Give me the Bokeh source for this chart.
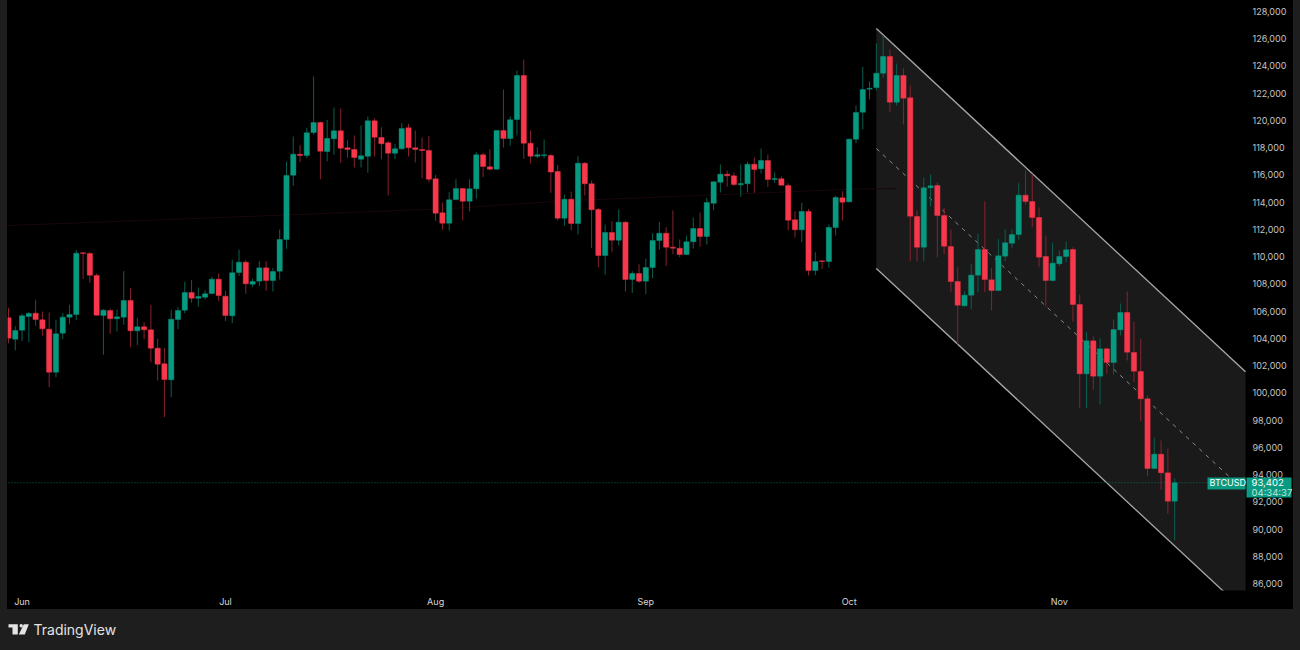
from bokeh.core.properties import value
from bokeh.embed import file_html
from bokeh.resources import INLINE
from bokeh.layouts import column, row
from bokeh.models import Range1d, LinearAxis, FixedTicker, NumeralTickFormatter, Label, ColumnDataSource, BoxAnnotation, Spacer
from bokeh.plotting import figure

opens = [105510,103944,104604,105608,105852,105363,104678,101521,104384,105559,
105755,110282,110233,108618,105681,106048,105436,105559,106782,104556,
104849,104629,103283,102133,100958,105388,106073,107370,106954,107027,
107296,108348,107100,105657,108838,109596,107981,108202,109180,108250,
108933,111261,115982,117523,117428,119117,119851,117722,118654,119241,
117993,117868,117156,117377,119976,118749,118360,117597,117920,119462,
117993,117868,117795,115717,113221,112457,114197,115005,114073,114983,
117479,116598,116422,119263,118676,120071,123301,118331,117377,117428,
117428,116253,112824,114219,112435,116863,115350,113463,110086,111775,
111209,112531,108324,108764,108199,109205,111187,111723,110695,110622,
110159,111092,112068,111481,113926,115468,116055,115937,115277,115350,
116789,116451,117061,115666,115717,115225,112707,111973,113316,108985,
109697,109645,112142,114322,114029,118625,120607,122296,122420,123470,
124696,121341,123301,121664,112949,110695,115056,115225,113023,110747,
108177,106393,107171,108640,110526,108302,107516,110035,110989,111628,
114513,114051,112876,110012,108250,109476,110012,110526,106488,101400,
103823,101224,103236,102230,104631,105901,102964,101569,99565,94447,
95497,94132,92046]

closes = [104017,104580,105657,105828,105388,104702,101521,104335,105559,105755,
110257,110240,108642,105706,106073,105436,105583,106782,104556,104849,
104629,103283,102109,100983,105412,106048,107370,106954,107076,107272,
108348,107149,105681,108813,109596,108006,108177,109180,108250,108911,
111261,115959,117523,117428,119095,119851,117744,118676,119241,117964,
117868,117281,117406,119976,118772,118287,117597,117920,119410,117993,
117868,117795,115688,113192,112457,114175,115005,114073,114983,117479,
116620,116422,119263,118676,120049,123301,118331,117377,117479,117479,
116216,112824,114219,112435,116863,115350,113441,110086,111775,111209,
112531,108324,108764,108199,109205,111187,111723,110695,110622,110159,
111092,112068,111481,113977,115497,116055,115937,115299,115372,116789,
116400,117061,115666,115739,115247,112678,111973,113316,108985,109645,
109645,112142,114344,113999,118625,120585,122274,122369,123470,124696,
121341,123301,121635,112971,110695,115056,115203,113023,110769,108177,
106437,107171,108640,110526,108324,107516,110064,111018,111628,114513,
114051,112876,109961,108250,109521,110012,110504,106488,101400,103823,
101224,103236,102230,104653,105901,102986,101591,99565,94447,95497,
94132,92046,93402]

highs = [106244,104898,105803,105926,106831,105975,105901,105363,105877,106464,
110502,110330,110355,108764,106146,106195,106122,108936,107712,105510,
105192,106464,103968,103308,106097,106293,108153,108299,107737,107516,
108520,108764,107492,109768,110526,109743,108373,109670,109670,109180,
111995,116987,118823,118184,119432,123228,119924,120049,120952,120879,
118551,118896,119630,120291,120166,119506,118507,118287,119799,119755,
119263,118749,118874,116011,113977,114733,115688,115027,115688,117670,
117626,117890,119263,122274,120291,123669,124476,119263,118037,118603,
117553,116730,114565,114785,117377,116936,115592,113588,112362,112604,
113463,112604,108933,109447,109844,111723,112560,112164,113390,111261,
111532,112876,113243,114322,115519,116767,116327,116180,116767,116965,
117281,117942,117501,116180,115886,115394,113316,113955,113515,110328,
109719,112362,114469,114807,118676,121099,123940,122861,125673,126238,
125210,124183,123815,122567,113390,115791,116033,115446,113610,111995,
109227,107443,109447,111679,114051,109153,111312,111995,111995,115394,
116327,116084,113610,111554,111018,110453,111114,110695,107223,104455,
104139,104014,103309,105387,106562,107443,105240,103970,99807,96701,
96503,95893,93713]

lows = [103650,103112,103797,103724,104923,104188,100420,101154,103944,105045,
105339,108373,108079,105681,102794,104335,104507,104996,103356,103503,
103944,102255,100909,98218,99686,104678,105852,106611,106317,106856,
107223,106733,105265,105118,108569,107272,107761,107835,107492,107443,
108324,110578,115203,116936,117230,118948,115688,117009,117479,116892,
117281,116547,116547,116158,117354,117156,114491,117156,117847,117354,
116914,115761,115468,112656,111973,111921,114124,112656,113338,114249,
115835,116349,116400,118015,118162,118896,117186,116841,117230,117230,
114689,112656,112288,111921,111628,114491,110622,109227,108691,110328,
110820,107443,107347,108082,107245,108397,110526,109300,110181,109961,
110130,110600,110725,110894,113412,114711,115130,115174,114396,114711,
114689,116106,115101,115424,115225,111943,111407,111062,108617,108640,
109109,109205,111554,112656,113977,118331,119337,121561,122200,123133,
120607,121099,119704,109667,109667,109667,113683,109961,110181,107391,
103552,106341,106121,107391,107391,106048,107465,109667,110651,111238,
113830,112164,109227,106341,108199,109300,109594,105240,98875,98875,
100226,99146,101400,101349,104212,102377,100784,97920,93912,94425,
92884,91121,89161]

days = list(range(173))

price_ticks = [86000,88000,90000,92000,94000,96000,98000,100000,102000,104000,106000,
               108000,110000,112000,114000,116000,118000,120000,122000,124000,126000,128000]
month_days = [2,32,63,94,124,155]
month_names = ["Jun","Jul","Aug","Sep","Oct","Nov"]

channel_days = [128,182.45]
channel_upper = [126752,101546]
channel_mid = [117942,92737]
channel_lower = [109132,83926]

ma_days = [0,39,65,83,102,123,131]
ma_values = [112288,113023,113536,114124,114491,114932,115005]

last_price = 93402
scale_day = 182.45

GREEN, RED = "#089981", "#f7374b"
GREEN_W, RED_W = "#0a5f50", "#86222e"
TAG = "#0a9a82"
TXT = "#c4c4c4"
GREY = "#1e1e1e"

p = figure(width=1286, height=609, output_backend="svg", toolbar_location=None,
           x_range=Range1d(-0.147,189.53), y_range=Range1d(85490,128808),
           y_axis_location=None, min_border_left=0, min_border_right=0,
           min_border_top=0, min_border_bottom=19,
           background_fill_color=None, border_fill_color=None, outline_line_color=None,
           styles={"background-color":"#000000"})
p.grid.visible = False

xa = p.xaxis[0]
xa.ticker = FixedTicker(ticks=month_days)
xa.major_label_overrides = {d: n for d, n in zip(month_days, month_names)}
xa.axis_line_color = None
xa.major_tick_line_color = None
xa.minor_tick_line_color = None
xa.major_tick_out = 0
xa.major_tick_in = 0
xa.major_label_text_color = "#d8d8d8"
xa.major_label_text_font = "Inter"
xa.major_label_text_font_size = "9px"
xa.major_label_standoff = 5

ya = LinearAxis(ticker=FixedTicker(ticks=price_ticks), formatter=NumeralTickFormatter(format="0,0"),
                fixed_location=scale_day)
ya.axis_line_color = None
ya.major_tick_line_color = None
ya.minor_tick_line_color = None
ya.major_tick_out = 0
ya.major_tick_in = 0
ya.major_label_text_color = TXT
ya.major_label_text_font = "Inter"
ya.major_label_text_font_size = "9px"
ya.major_label_standoff = 7
p.add_layout(ya, "right")

# channel
p.varea(x=channel_days, y1=channel_lower, y2=channel_upper, fill_color="#1a1a1a")
p.line(ma_days, ma_values, line_color="#1a0709", line_width=1)
p.line(channel_days, channel_upper, line_color="#a8a8a8", line_width=1.3)
p.line(channel_days, channel_lower, line_color="#a8a8a8", line_width=1.3)
p.line(channel_days, channel_mid, line_color="#8a8a8a", line_width=1, line_dash=[4,5])
p.line([0,scale_day],[last_price,last_price], line_color="#0b6b5a", line_width=1, line_dash=[1,2])

src = ColumnDataSource(dict(
    d=days, o=opens, c=closes, h=highs, l=lows,
    top=[max(a,b) for a,b in zip(opens,closes)],
    bot=[min(a,b) for a,b in zip(opens,closes)],
    col=[GREEN if c>=o else RED for o,c in zip(opens,closes)],
    wick=[GREEN_W if c>=o else RED_W for o,c in zip(opens,closes)],
))
p.segment(x0="d", y0="l", x1="d", y1="h", line_color="wick", line_width=1, source=src)
p.vbar(x="d", width=0.78, top="top", bottom="bot", fill_color="col", line_color="col", line_width=0.4, source=src)

# price tag
for l, r, t, b in [(1200,1238,113,101),(1239,1284,113,93)]:
    p.add_layout(BoxAnnotation(left=l, right=r, top=t, bottom=b, left_units="screen", right_units="screen",
                               top_units="screen", bottom_units="screen", fill_color=TAG, fill_alpha=1,
                               line_color=None, level="annotation"))
p.add_layout(Label(x=1202, y=last_price, x_units="screen", y_units="data", text="BTCUSD",
    text_color="#ffffff", text_font="Inter", text_font_size="9px", text_align="left", text_baseline="middle"))
p.add_layout(Label(x=1244, y=last_price, x_units="screen", y_units="data", text="93,402",
    text_color="#ffffff", text_font="Inter", text_font_size="9.5px", text_align="left", text_baseline="middle"))
p.add_layout(Label(x=1244, y=92700, x_units="screen", y_units="data", text="04:34:37",
    text_color="#bfe6de", text_font="Inter", text_font_size="9.5px", text_align="left", text_baseline="middle"))

# footer
f = figure(width=1300, height=41, output_backend="svg", toolbar_location=None,
           x_range=Range1d(0,1300), y_range=Range1d(41,0),
           x_axis_location=None, y_axis_location=None,
           min_border_left=0, min_border_right=0, min_border_top=0, min_border_bottom=0,
           background_fill_color=None, border_fill_color=None, outline_line_color=None)
f.grid.visible = False
LOGO = "#e4e4e4"
f.patch([8,17.3,17.3,12,12,8],[14.7,14.7,25,25,18,18], fill_color=LOGO, line_color=None)
f.circle([20.7],[16.3], radius=1.7, fill_color=LOGO, line_color=None)
f.patch([23.3,28.3,24.3,18.3],[14.7,14.7,25,25], fill_color=LOGO, line_color=None)
f.text([33],[20], text=["TradingView"], text_color=LOGO, text_font=value("Inter"), text_font_size="14px",
       text_align="left", text_baseline="middle")

layout = column(row(Spacer(width=7, height=609), p, Spacer(width=7, height=609), spacing=0), f,
                spacing=0, styles={"background-color":GREY})
open("out.html","w").write(file_html(layout, INLINE))
